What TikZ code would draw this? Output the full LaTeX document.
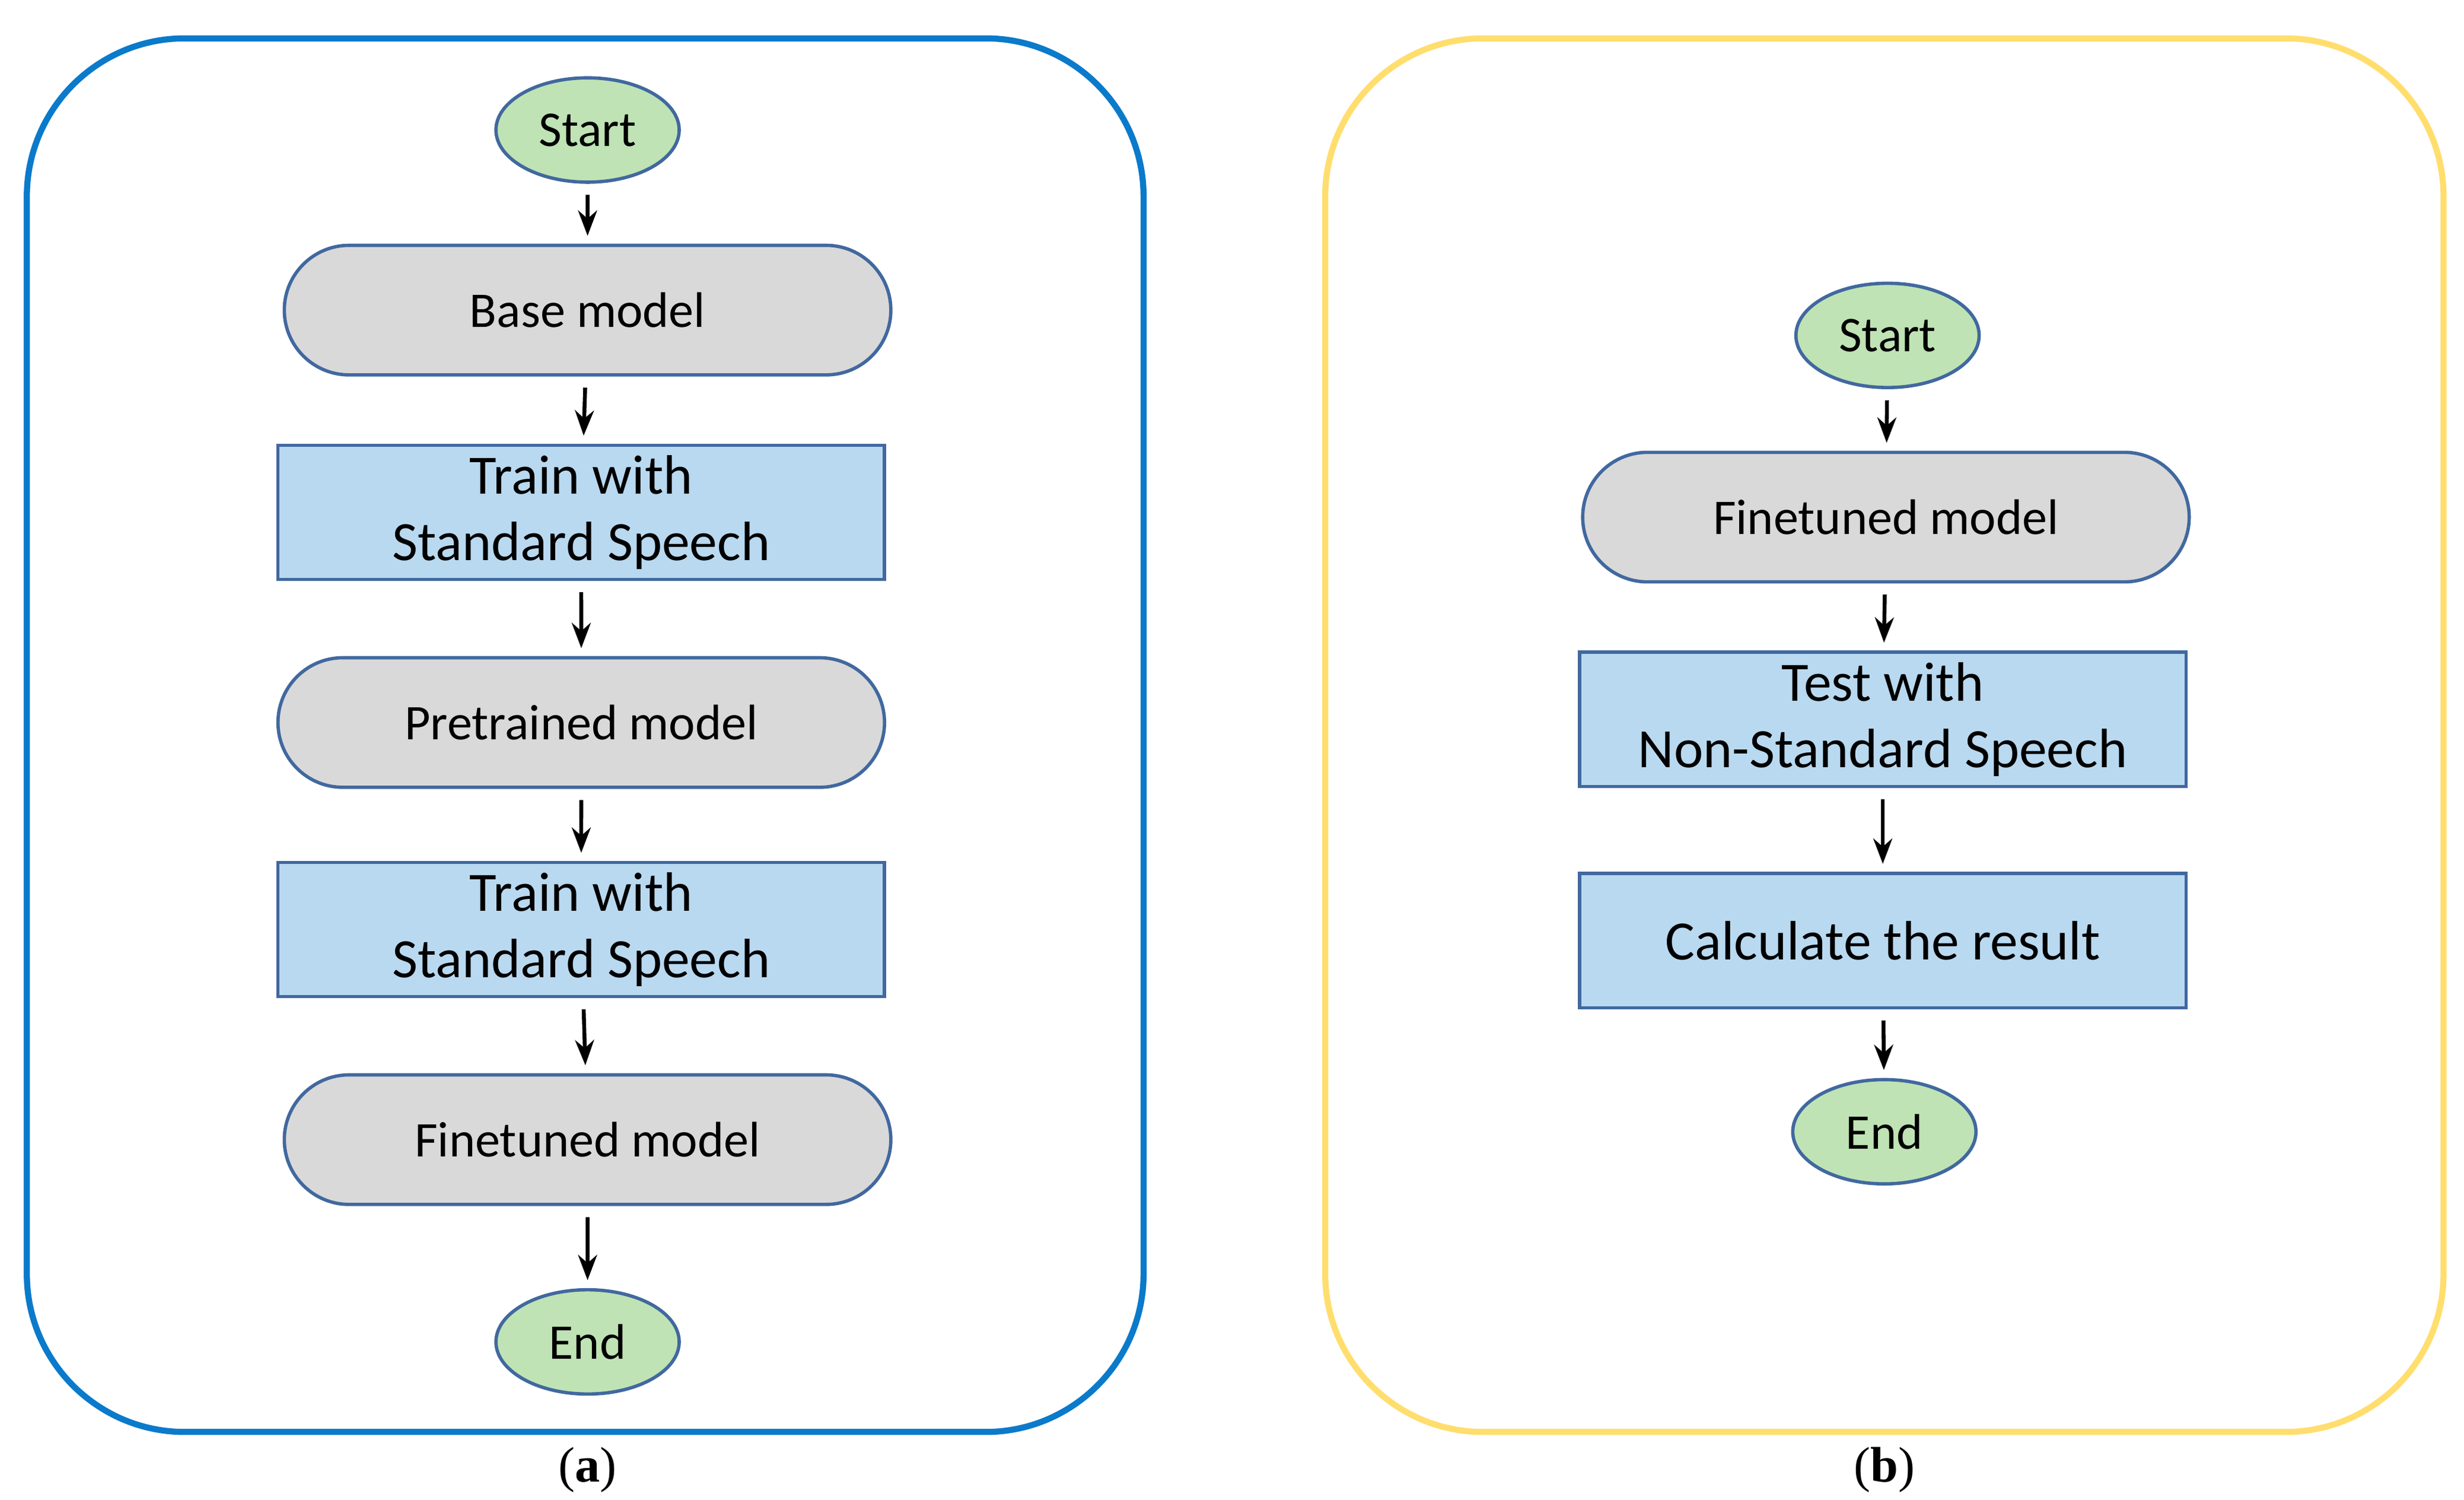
\documentclass[tikz,border=0pt]{standalone}
\usepackage{fontspec}
\setmainfont{Carlito}
\newfontfamily\capfont{Liberation Serif}
\usetikzlibrary{shapes.misc,shapes.geometric,arrows.meta}
\definecolor{panelblue}{HTML}{0A7ACB}
\definecolor{panelyellow}{HTML}{FFDE6E}
\definecolor{edgeblue}{HTML}{41689F}
\definecolor{termgreen}{HTML}{BFE3B4}
\definecolor{modelgrey}{HTML}{D9D9D9}
\definecolor{stepblue}{HTML}{B9D9F0}
\tikzset{
  term/.style={ellipse, draw=edgeblue, fill=termgreen, line width=0.6pt, minimum width=1.16cm, minimum height=0.66cm, inner sep=0pt, font=\fontsize{9}{10}\selectfont},
  model/.style={rounded rectangle, draw=edgeblue, fill=modelgrey, line width=0.6pt, minimum width=3.84cm, minimum height=0.82cm, inner sep=0pt, font=\fontsize{9}{10}\selectfont},
  task/.style={rectangle, draw=edgeblue, fill=stepblue, line width=0.6pt, minimum width=3.84cm, minimum height=0.85cm, inner sep=0pt, align=center, font=\fontsize{10}{12}\selectfont},
  flow/.style={-{Stealth[length=1.6mm,width=1.2mm]}, line width=0.7pt, shorten <=0.7mm, shorten >=0.5mm},
  panel/.style={rounded corners=1cm, line width=1.1pt}
}
\begin{document}
\begin{tikzpicture}
  \useasboundingbox (0,0) rectangle (15.6,9.493);

  % panels
  \draw[panel, draw=panelblue] (0.17,0.43) rectangle (7.24,9.25);
  \draw[panel, draw=panelyellow] (8.39,0.43) rectangle (15.47,9.25);

  % (a)
  \node[term] (sA) at (3.72,8.67) {Start};
  \node[model] (base) at (3.72,7.53) {Base model};
  \node[task] (trainA) at (3.68,6.25) {Train with\\Standard Speech};
  \node[model] (pre) at (3.68,4.92) {Pretrained model};
  \node[task] (trainB) at (3.68,3.61) {Train with\\Standard Speech};
  \node[model] (fineA) at (3.72,2.28) {Finetuned model};
  \node[term] (eA) at (3.72,1.00) {End};

  \draw[flow] (sA) -- (base);
  \draw[flow] (base) -- (trainA);
  \draw[flow] (trainA) -- (pre);
  \draw[flow] (pre) -- (trainB);
  \draw[flow] (trainB) -- (fineA);
  \draw[flow] (fineA) -- (eA);

  % (b)
  \node[term] (sB) at (11.95,7.37) {Start};
  \node[model] (fineB) at (11.94,6.22) {Finetuned model};
  \node[task] (test) at (11.92,4.94) {Test with\\Non-Standard Speech};
  \node[task] (calc) at (11.92,3.54) {Calculate the result};
  \node[term] (eB) at (11.93,2.33) {End};

  \draw[flow] (sB) -- (fineB);
  \draw[flow] (fineB) -- (test);
  \draw[flow] (test) -- (calc);
  \draw[flow] (calc) -- (eB);

  % captions
  \node[font=\capfont\fontsize{9}{10}\selectfont] (capA) at (3.72,0.19) {(\textbf{a})};
  \node[font=\capfont\fontsize{9}{10}\selectfont] (capB) at (11.93,0.19) {(\textbf{b})};
\end{tikzpicture}
\end{document}
